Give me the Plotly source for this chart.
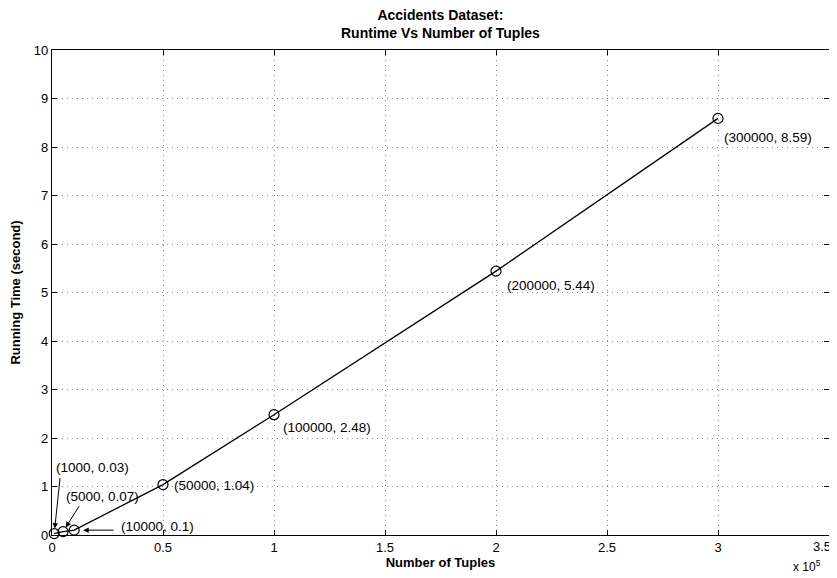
import plotly.graph_objects as go

tuples = [1000, 5000, 10000, 50000, 100000, 200000, 300000]
runtime = [0.03, 0.07, 0.1, 1.04, 2.48, 5.44, 8.59]
x_ticks = [0, 50000, 100000, 150000, 200000, 250000, 300000, 350000]
x_ticktext = ["0", "0.5", "1", "1.5", "2", "2.5", "3", "3.5"]
y_ticks = list(range(0, 11))

FONT = "Liberation Sans, Arial, Helvetica, sans-serif"

fig = go.Figure()
fig.add_trace(go.Scatter(
    x=tuples, y=runtime, mode="lines+markers",
    line=dict(color="black", width=1.3),
    marker=dict(symbol="circle-open", size=10, color="black", line=dict(width=1.2)),
    showlegend=False, cliponaxis=False,
))

labels = [f"({t}, {r:g})" for t, r in zip(tuples, runtime)]
# text offsets (pixels) relative to each point
shifts = [(0, 66), (1, 35), (45, 4), (9, -1), (7, -13), (9, -14), (4, -19)]
for t, r, lab, (dx, dy) in zip(tuples, runtime, labels, shifts):
    fig.add_annotation(x=t, y=r, text=lab, showarrow=False, xanchor="left",
                       yanchor="middle", xshift=dx, yshift=dy,
                       font=dict(family=FONT, size=13.5, color="black"))

# arrows for the three small points: (tail offset px, standoff)
arrows = [(6, -57, 5), (17, -27, 5), (41, 0, 9)]
for t, r, (ax, ay, so) in zip(tuples[:3], runtime[:3], arrows):
    fig.add_annotation(x=t, y=r, text="", showarrow=True, ax=ax, ay=ay,
                       arrowhead=2, arrowsize=1.1, arrowwidth=1, arrowcolor="black",
                       standoff=so)

# last x tick label sits at the figure edge; draw it right-aligned so it stays visible
fig.add_annotation(x=x_ticks[-1], y=0, xref="x", yref="y", text=x_ticktext[-1],
                   showarrow=False, xanchor="right", yanchor="top", xshift=4, yshift=-2,
                   font=dict(family=FONT, size=13, color="black"))

fig.add_annotation(xref="paper", yref="paper", x=1.0, y=0, yshift=-41, xshift=-6,
                   xanchor="right", yanchor="bottom", showarrow=False,
                   text="x 10<sup>5</sup>", font=dict(family=FONT, size=12, color="black"))

fig.add_annotation(xref="paper", yref="paper", x=0.5, y=1, yshift=7,
                   xanchor="center", yanchor="bottom", showarrow=False,
                   text="<b>Accidents Dataset:<br>Runtime Vs Number of Tuples</b>",
                   font=dict(family=FONT, size=14, color="black"))

axis_common = dict(
    showline=True, linecolor="black", linewidth=1.2, mirror="ticks",
    ticks="inside", ticklen=5, tickcolor="black", tickwidth=1,
    showgrid=True, gridcolor="#8a8a8a", griddash="1px,4px", gridwidth=1,
    zeroline=False, automargin=False,
    tickfont=dict(family=FONT, size=13, color="black"),
)

fig.update_layout(
    width=829, height=570,
    margin=dict(l=44, r=8, t=42, b=43),
    paper_bgcolor="white", plot_bgcolor="white",
    xaxis=dict(range=[0, 350000], tickvals=x_ticks, ticktext=x_ticktext,
               title=dict(text="<b>Number of Tuples</b>", standoff=2,
                          font=dict(family=FONT, size=13, color="black")),
               **axis_common),
    yaxis=dict(range=[0, 10], tickvals=y_ticks,
               title=dict(text="<b>Running Time (second)</b>", standoff=10,
                          font=dict(family=FONT, size=13, color="black")),
               **axis_common),
)

fig.write_html("out.html")
